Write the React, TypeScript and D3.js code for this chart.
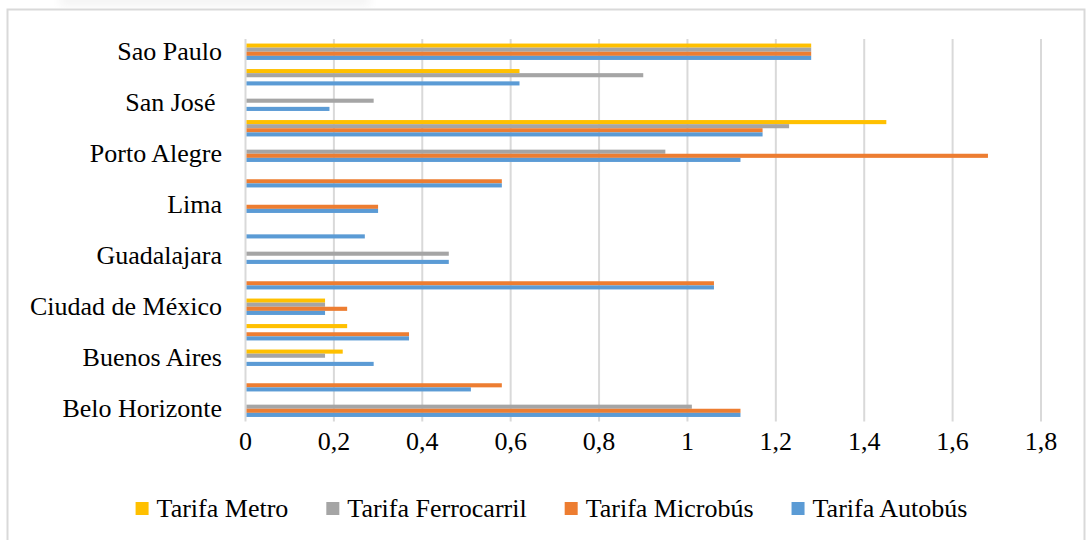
import React, { useEffect, useRef } from "react";
import * as d3 from "d3";

const cities = [
  "Belo Horizonte", "Bogotá", "Buenos Aires", "Caracas", "Ciudad de México",
  "Curitiba", "Guadalajara", "León", "Lima", "Montevideo",
  "Porto Alegre", "Río de Janeiro", "San José ", "Santiago", "Sao Paulo",
];
const seriesNames = ["Tarifa Metro", "Tarifa Ferrocarril", "Tarifa Microbús", "Tarifa Autobús"];
const seriesColors = ["#FFC000", "#A5A5A5", "#ED7D31", "#5B9BD5"];

const metro: (number | null)[] = [null, null, 0.22, 0.23, 0.18, null, null, null, null, null, null, 1.45, null, 0.62, 1.28];
const ferrocarril: (number | null)[] = [1.01, null, 0.18, null, 0.18, null, 0.46, null, null, null, 0.95, 1.23, 0.29, 0.9, 1.28];
const microbus: (number | null)[] = [1.12, 0.58, null, 0.37, 0.23, 1.06, null, null, 0.3, 0.58, 1.68, 1.17, null, null, 1.28];
const autobus: (number | null)[] = [1.12, 0.51, 0.29, 0.37, 0.18, 1.06, 0.46, 0.27, 0.3, 0.58, 1.12, 1.17, 0.19, 0.62, 1.28];
const xTicks = [0, 0.2, 0.4, 0.6, 0.8, 1, 1.2, 1.4, 1.6, 1.8];

const W = 1086;
const H = 540;

export default function App() {
  const ref = useRef<SVGSVGElement | null>(null);

  useEffect(() => {
    const svg = d3.select(ref.current);
    svg.selectAll("*").remove();
    const font = "'Liberation Serif', 'Times New Roman', serif";
    const fs = 26;

    // faint smudge above the frame (blurred page content)
    const defs = svg.append("defs");
    defs.append("filter").attr("id", "blur").append("feGaussianBlur").attr("stdDeviation", 4);
    svg.append("rect").attr("x", 60).attr("y", -6).attr("width", 310).attr("height", 12)
      .attr("fill", "#f4f4f4").attr("filter", "url(#blur)");

    // frame
    svg.append("rect").attr("x", 7.5).attr("y", 9.5).attr("width", 1077).attr("height", 560)
      .attr("fill", "#fff").attr("stroke", "#d9d9d9").attr("stroke-width", 2);

    const plotL = 245.5, plotR = 1041, plotT = 39, plotB = 421.5;
    const x = d3.scaleLinear().domain([0, 1.8]).range([plotL, plotR]);
    const y = d3.scaleBand<string>().domain([...cities].reverse()).range([plotT, plotB]).paddingInner(0).paddingOuter(0);

    // grid lines
    const g = svg.append("g");
    g.selectAll("line.grid").data(xTicks).enter().append("line")
      .attr("x1", (d) => x(d)).attr("x2", (d) => x(d))
      .attr("y1", plotT).attr("y2", plotB)
      .attr("stroke", "#d9d9d9").attr("stroke-width", 2);

    // bars
    const seriesData = [metro, ferrocarril, microbus, autobus];
    const barH = 4.1;
    const groupH = barH * 4;
    seriesData.forEach((vals, si) => {
      g.append("g").selectAll("rect").data(cities.map((c, i) => ({ c, v: vals[i] })).filter((d) => d.v != null))
        .enter().append("rect")
        .attr("x", x(0) + 1)
        .attr("width", (d) => x(d.v as number) - x(0) - 1)
        .attr("y", (d) => (y(d.c) as number) + (y.bandwidth() - groupH) / 2 + si * barH)
        .attr("height", barH)
        .attr("fill", seriesColors[si]);
    });

    // category labels (every other one)
    g.selectAll("text.cat").data(cities.filter((_, i) => i % 2 === 0)).enter().append("text")
      .attr("x", 222)
      .attr("y", (d) => (y(d) as number) + y.bandwidth() / 2 + 8.5)
      .attr("text-anchor", "end")
      .attr("font-family", font).attr("font-size", fs).attr("fill", "#000")
      .style("white-space", "pre")
      .text((d) => d);

    // x tick labels
    g.selectAll("text.tick").data(xTicks).enter().append("text")
      .attr("x", (d) => x(d))
      .attr("y", 450)
      .attr("text-anchor", "middle")
      .attr("font-family", font).attr("font-size", fs).attr("fill", "#000")
      .text((d) => d3.format("")(d).replace(".", ","));

    // legend
    const lg = svg.append("g");
    const items = seriesNames.map((n, i) => ({ n, c: seriesColors[i] }));
    const widths: number[] = [];
    const tmp = lg.append("text").attr("font-family", font).attr("font-size", fs);
    items.forEach((it) => {
      tmp.text(it.n);
      widths.push((tmp.node() as SVGTextElement).getComputedTextLength());
    });
    tmp.remove();
    const sq = 13, gap1 = 21, gap2 = 38;
    const total = widths.reduce((a, w) => a + gap1 + w, 0) + gap2 * (items.length - 1);
    let cx = 551.5 - total / 2;
    items.forEach((it, i) => {
      lg.append("rect").attr("x", cx).attr("y", 502).attr("width", sq).attr("height", sq).attr("fill", it.c);
      lg.append("text").attr("x", cx + gap1).attr("y", 517)
        .attr("font-family", font).attr("font-size", fs).attr("fill", "#000").text(it.n);
      cx += gap1 + widths[i] + gap2;
    });
  }, []);

  return (
    <svg ref={ref} width={W} height={H} style={{ display: "block", position: "absolute", left: 0, top: 0 }} />
  );
}
